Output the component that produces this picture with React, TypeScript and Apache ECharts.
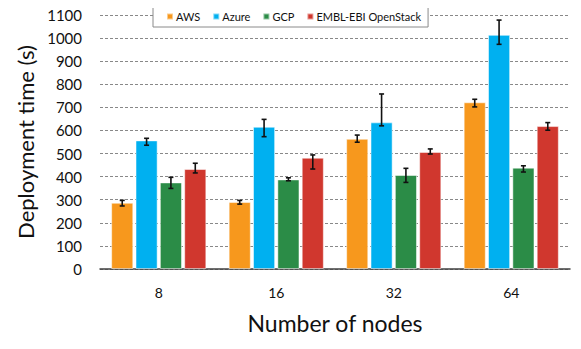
import React, { useEffect, useRef } from "react";
import * as echarts from "echarts";

const categories = ["8", "16", "32", "64"];
const seriesNames = ["AWS", "Azure", "GCP", "EMBL-EBI OpenStack"];
const colors = ["#F7981D", "#00B0F0", "#2B8C47", "#D0372E"];

const awsValues = [287, 290, 564, 722];
const awsLow = [273, 281, 549, 702];
const awsHigh = [297, 297, 580, 735];

const azureValues = [557, 616, 635, 1014];
const azureLow = [536, 573, 620, 973];
const azureHigh = [566, 648, 758, 1078];

const gcpValues = [375, 388, 407, 439];
const gcpLow = [349, 382, 375, 420];
const gcpHigh = [397, 395, 436, 447];

const emblValues = [433, 482, 507, 619];
const emblLow = [416, 433, 498, 601];
const emblHigh = [458, 494, 520, 634];

const yTicks = [0, 100, 200, 300, 400, 500, 600, 700, 800, 900, 1000, 1100];

const allValues = [awsValues, azureValues, gcpValues, emblValues];
const allLow = [awsLow, azureLow, gcpLow, emblLow];
const allHigh = [awsHigh, azureHigh, gcpHigh, emblHigh];

const FONT = "Lato";
const CAT_GAP = 0.19;
const BAR_GAP = 0.1;

export default function App() {
  const ref = useRef<HTMLDivElement>(null);
  useEffect(() => {
    if (!ref.current) return;
    const chart = echarts.init(ref.current, undefined, { renderer: "svg" });
    const n = seriesNames.length;
    const barSeries = seriesNames.map((name, i) => ({
      name,
      type: "bar",
      data: allValues[i],
      itemStyle: { color: colors[i], borderColor: "rgba(255,255,255,0.5)", borderWidth: 1 },
      barCategoryGap: `${CAT_GAP * 100}%`,
      barGap: `${BAR_GAP * 100}%`,
      z: 2,
    }));
    const errSeries = seriesNames.map((name, i) => ({
      name: name + "-err",
      type: "custom",
      z: 5,
      data: categories.map((_, k) => [k, allValues[i][k], allLow[i][k], allHigh[i][k]]),
      encode: { x: 0, y: [2, 3] },
      renderItem: (params: any, api: any) => {
        const cat = api.value(0);
        const lo = api.coord([cat, api.value(2)]);
        const hi = api.coord([cat, api.value(3)]);
        const catW = api.size([1, 0])[0];
        const barW = (catW * (1 - CAT_GAP)) / (n + (n - 1) * BAR_GAP);
        const x = lo[0] + (i - (n - 1) / 2) * barW * (1 + BAR_GAP);
        const cap = 2.5;
        const style = { stroke: "#111", lineWidth: 1.6 };
        return {
          type: "group",
          children: [
            { type: "line", shape: { x1: x, y1: lo[1], x2: x, y2: hi[1] }, style },
            { type: "line", shape: { x1: x - cap, y1: lo[1], x2: x + cap, y2: lo[1] }, style },
            { type: "line", shape: { x1: x - cap, y1: hi[1], x2: x + cap, y2: hi[1] }, style },
          ],
        };
      },
    }));
    chart.setOption({
      animation: false,
      textStyle: { fontFamily: FONT },
      grid: { left: 100, right: 11, top: 15, bottom: 80 },
      legend: {
        data: seriesNames,
        left: 153,
        top: 6,
        padding: [5, 7, 5, 13],
        itemWidth: 6,
        itemHeight: 6,
        itemGap: 12,
        icon: "rect",
        borderColor: "#8a8a8a",
        borderWidth: 1,
        backgroundColor: "#fff",
        textStyle: { fontFamily: FONT, fontSize: 11, color: "#111", padding: [0, 0, 0, -2] },
        z: 10,
      },
      xAxis: {
        type: "category",
        data: categories,
        axisLine: { lineStyle: { color: "#404040", width: 1.5 } },
        axisTick: { show: false },
        axisLabel: { fontSize: 14, color: "#111", margin: 16 },
        name: "Number of nodes",
        nameLocation: "middle",
        nameGap: 42,
        nameTextStyle: { fontSize: 23, color: "#111", fontFamily: FONT },
      },
      yAxis: {
        type: "value",
        min: yTicks[0],
        max: yTicks[yTicks.length - 1],
        interval: 100,
        axisLine: { show: false },
        axisTick: { show: false },
        axisLabel: { fontSize: 15, color: "#111", margin: 18, formatter: (v: number) => String(v) },
        splitLine: { lineStyle: { color: "#888", type: [3, 2], width: 1 } },
        name: "Deployment time (s)",
        nameLocation: "middle",
        nameGap: 58,
        nameTextStyle: { fontSize: 22, color: "#111", fontFamily: FONT },
      },
      series: [...barSeries, ...errSeries],
    });
    return () => chart.dispose();
  }, []);
  return <div ref={ref} style={{ width: 581, height: 349, margin: -8 }} />;
}
